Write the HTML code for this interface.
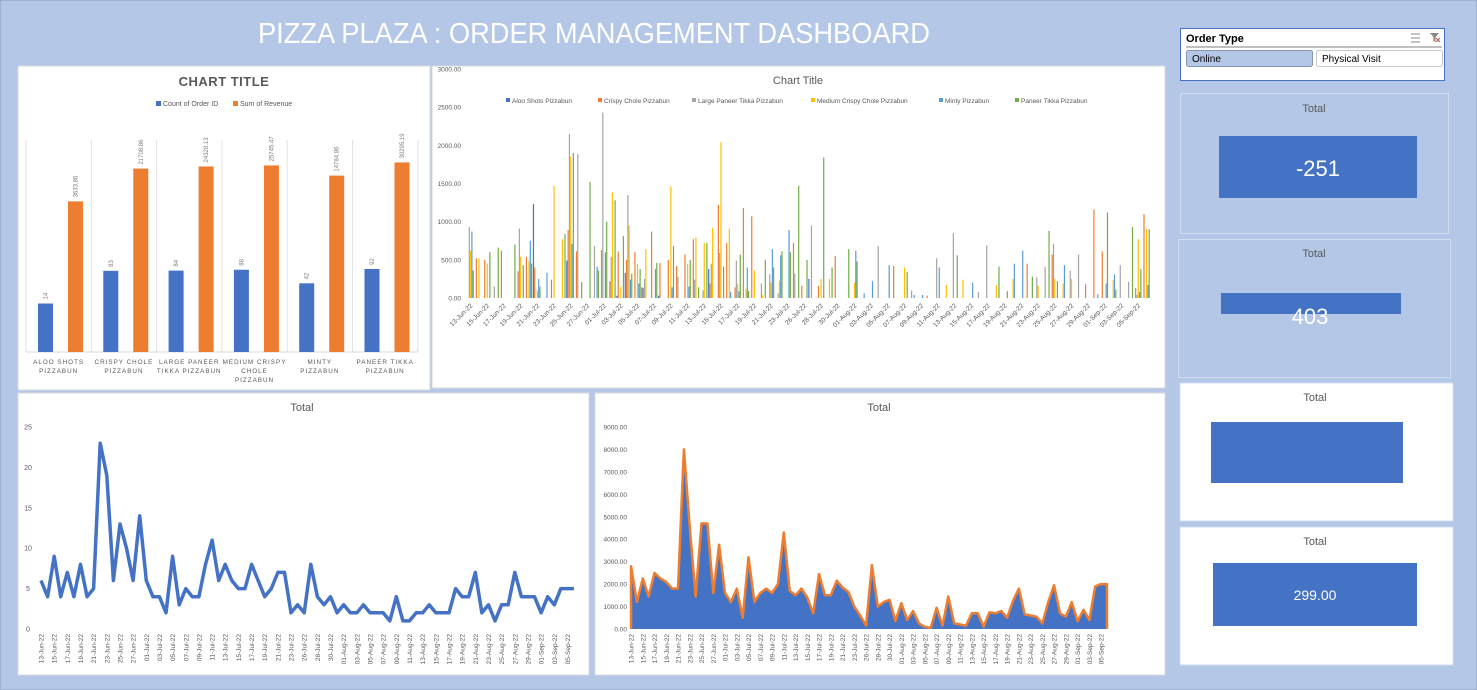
<!DOCTYPE html>
<html><head><meta charset="utf-8">
<style>
html,body{margin:0;padding:0;background:#b4c7e7;}
svg{display:block;font-family:"Liberation Sans",sans-serif;}
</style></head>
<body>
<svg id="dash" width="1477" height="690" viewBox="0 0 1477 690">
<rect x="0" y="0" width="1477" height="690" fill="#b4c7e7" stroke="#8a9bb8"/>
<text x="594" y="43" text-anchor="middle" fill="#ffffff" font-size="29" textLength="672" lengthAdjust="spacingAndGlyphs">PIZZA PLAZA : ORDER MANAGEMENT DASHBOARD</text>

<g>
<rect x="18" y="66" width="412" height="324" fill="#fff" stroke="#d9d9d9"/>
<text x="224" y="86" text-anchor="middle" font-size="13" font-weight="bold" fill="#595959" letter-spacing="0.5">CHART TITLE</text>
<rect x="156" y="101" width="5" height="5" fill="#4472c4"/>
<text x="163" y="106" font-size="7" fill="#595959">Count of Order ID</text>
<rect x="233" y="101" width="5" height="5" fill="#ed7d31"/>
<text x="240" y="106" font-size="7" fill="#595959">Sum of Revenue</text>
<g id="barG"></g>
</g>

<g>
<rect x="432" y="66" width="733" height="322" fill="#fff" stroke="#d9d9d9"/>
<text x="798" y="84" text-anchor="middle" font-size="11" fill="#595959">Chart Title</text>
<g id="prodLegend"></g>
<g id="prodG"></g>
</g>

<g>
<rect x="18" y="393" width="571" height="282" fill="#fff" stroke="#d9d9d9"/>
<text x="302" y="411" text-anchor="middle" font-size="11" fill="#595959">Total</text>
<g id="lineG"></g>
</g>

<g>
<rect x="595" y="393" width="570" height="282" fill="#fff" stroke="#d9d9d9"/>
<text x="879" y="411" text-anchor="middle" font-size="11" fill="#595959">Total</text>
<g id="areaG"></g>
</g>

<g>
<rect x="1180.5" y="28.5" width="264" height="52" fill="#fff" stroke="#4472c4"/>
<text x="1186" y="42" font-size="11" font-weight="bold" fill="#000">Order Type</text>
<line x1="1186" y1="47" x2="1442" y2="47" stroke="#7f7f7f"/>
<g><line x1="1411" y1="34" x2="1420" y2="34" stroke="#888"/><line x1="1411" y1="38" x2="1420" y2="38" stroke="#888"/><line x1="1411" y1="42" x2="1420" y2="42" stroke="#888"/></g>
<g><path d="M1430 33 h9 l-3.5 4 v5 l-2 -1 v-4 z" fill="#888"/><path d="M1436 38 l4 4 M1440 38 l-4 4" stroke="#c0504d"/></g>
<rect x="1186.5" y="50.5" width="126" height="16" rx="2" fill="#b4c7e7" stroke="#8497b0"/>
<text x="1192" y="62" font-size="10" fill="#000">Online</text>
<rect x="1316.5" y="50.5" width="126" height="16" rx="2" fill="#fff" stroke="#c8c8c8"/>
<text x="1322" y="62" font-size="10" fill="#000">Physical Visit</text>
</g>

<g>
<rect x="1180.5" y="93.5" width="268" height="140" fill="#b4c7e7" stroke="#d0dcef"/>
<text x="1314" y="112" text-anchor="middle" font-size="11" fill="#595959">Total</text>
<rect x="1219" y="136" width="198" height="62" fill="#4472c4"/>
<text x="1318" y="176" text-anchor="middle" font-size="22" fill="#fff">-251</text>
</g>
<g>
<rect x="1178.5" y="239.5" width="272" height="138" fill="#b4c7e7" stroke="#d0dcef"/>
<text x="1314" y="257" text-anchor="middle" font-size="11" fill="#595959">Total</text>
<rect x="1221" y="293" width="180" height="21" fill="#4472c4"/>
<text x="1310" y="324" text-anchor="middle" font-size="22" fill="#fff">403</text>
</g>
<g>
<rect x="1180" y="383" width="273" height="138" fill="#fff" stroke="#d0dcef"/>
<text x="1315" y="401" text-anchor="middle" font-size="11" fill="#595959">Total</text>
<rect x="1211" y="422" width="192" height="61" fill="#4472c4"/>
</g>
<g>
<rect x="1180" y="527" width="273" height="138" fill="#fff" stroke="#d0dcef"/>
<text x="1315" y="545" text-anchor="middle" font-size="11" fill="#595959">Total</text>
<rect x="1213" y="563" width="204" height="63" fill="#4472c4"/>
<text x="1315" y="600" text-anchor="middle" font-size="14" fill="#fff">299.00</text>
</g>
</svg>

<script>
// ===== Product bar chart data =====
const products = [["ALOO SHOTS","PIZZABUN"],["CRISPY CHOLE","PIZZABUN"],["LARGE PANEER","TIKKA PIZZABUN"],["MEDIUM CRISPY","CHOLE","PIZZABUN"],["MINTY","PIZZABUN"],["PANEER TIKKA","PIZZABUN"]];
const orderCounts = [14, 83, 84, 88, 42, 92];
const revenueSums = [3633.86, 21708.86, 24328.13, 25745.47, 14784.86, 30295.19];
const revenueLabels = ["3633.86","21708.86","24328.13","25745.47","14784.86","30295.19"];

// ===== Daily line / area data =====
const dateLabels = ["13-Jun-22","15-Jun-22","17-Jun-22","19-Jun-22","21-Jun-22","23-Jun-22","25-Jun-22","27-Jun-22","01-Jul-22","03-Jul-22","05-Jul-22","07-Jul-22","09-Jul-22","11-Jul-22","13-Jul-22","15-Jul-22","17-Jul-22","19-Jul-22","21-Jul-22","23-Jul-22","26-Jul-22","28-Jul-22","30-Jul-22","01-Aug-22","03-Aug-22","05-Aug-22","07-Aug-22","09-Aug-22","11-Aug-22","13-Aug-22","15-Aug-22","17-Aug-22","19-Aug-22","21-Aug-22","23-Aug-22","25-Aug-22","27-Aug-22","29-Aug-22","01-Sep-22","03-Sep-22","05-Sep-22"];
const dailyCounts = [6,4,9,4,7,4,8,4,5,23,19,6,13,10,6,14,6,4,4,2,9,3,5,4,4,8,11,6,8,6,5,5,8,6,4,5,7,7,2,3,2,8,4,3,4,2,3,2,2,3,2,2,2,1,4,1,1,2,2,3,2,2,2,5,4,4,7,2,3,1,3,3,7,4,4,4,2,4,3,5,5,5];
const dailyRevenue = [2800,1200,2250,1450,2500,2250,2100,1800,1800,8000,4500,1450,4700,4700,1600,3750,1600,1200,1800,500,3200,1200,1600,1800,1600,2000,4300,1700,1500,1800,1400,700,2450,1500,1500,2150,1850,1650,1000,600,150,2850,1000,1200,1300,350,1150,400,800,250,100,50,950,150,1450,250,200,150,700,700,100,750,700,800,500,1250,1800,650,600,550,250,1200,1950,700,550,1200,350,850,400,1900,2000,2000];
const countTicks = [0,5,10,15,20,25];
const revenueTicks = [0,1000,2000,3000,4000,5000,6000,7000,8000,9000];

// ===== Per-product daily revenue (sparse estimates) =====
const seriesNames = ["Aloo Shots Pizzabun","Crispy Chole Pizzabun","Large Paneer Tikka Pizzabun","Medium Crispy Chole Pizzabun","Minty Pizzabun","Paneer Tikka Pizzabun"];
const prodTicks = [0,500,1000,1500,2000,2500,3000];
const alooRev   = [0,0,0,0,0,0,0,0,1230,0,0,0,490,0,0,0,0,0,30,330,0,140,0,30,0,0,0,0,0,380,0,0,0,0,0,0,0,0,0,0,0,250,0,0,0,0,0,0,0,0,0,0,0,0,0,0,0,0,0,0,0,0,0,0,0,0,0,0,0,0,0,0,0,0,0,0,0,0,0,0,0,0];
const crispyRev = [0,520,500,0,620,0,350,540,400,0,240,0,890,610,0,0,630,220,610,500,600,130,870,460,500,420,570,770,0,190,1220,720,140,1180,1070,0,0,0,0,720,160,0,160,0,550,0,0,0,0,0,0,420,0,0,0,30,0,0,0,0,0,0,0,0,0,0,0,450,0,0,570,0,0,0,180,1160,610,0,0,0,130,1100];
const largeRev  = [930,0,0,150,0,0,910,0,0,0,0,0,2150,1890,0,680,2430,540,0,1350,0,250,0,0,0,280,0,240,100,450,590,0,490,0,0,190,310,60,0,320,0,950,0,0,0,0,0,0,0,680,0,0,0,100,0,0,520,0,850,0,0,80,690,0,0,0,0,0,270,410,710,0,360,570,0,0,0,0,430,210,40,0];
const mediumRev = [620,520,450,0,0,0,540,480,100,0,1470,770,1850,0,0,0,0,1380,150,950,450,640,0,0,1460,0,450,790,720,920,2040,910,180,120,360,40,200,230,0,0,0,0,250,250,0,0,200,0,0,0,0,0,400,0,0,0,0,170,0,240,0,0,0,170,0,250,0,0,160,0,250,190,250,0,0,0,0,240,0,0,770,900];
const mintyRev  = [870,0,0,0,0,0,0,750,250,330,0,0,710,0,0,410,600,0,0,240,190,0,380,0,140,0,150,0,0,0,0,80,90,400,0,0,640,560,890,0,0,0,0,0,0,0,620,60,220,0,430,0,0,40,40,0,400,0,0,0,200,0,0,0,0,450,620,0,0,0,0,430,0,0,0,50,190,310,0,0,80,170];
const paneerRev = [360,0,600,660,0,700,430,450,150,0,0,840,1900,210,1520,360,1000,1280,810,320,380,0,460,0,680,0,500,140,720,0,410,0,570,90,0,500,400,610,600,1470,500,0,1840,400,0,640,480,0,0,0,0,0,340,0,0,0,0,0,560,0,0,0,0,410,90,0,0,280,0,880,220,0,0,0,0,0,1120,110,0,930,380,900];
const seriesValues = [alooRev, crispyRev, largeRev, mediumRev, mintyRev, paneerRev];
const seriesColors = ["#4472c4","#ed7d31","#a5a5a5","#ffc000","#5b9bd5","#70ad47"];

const NS = "http://www.w3.org/2000/svg";
function mk(tag, attrs, parent, text){
  const e = document.createElementNS(NS, tag);
  for (const k in attrs) e.setAttribute(k, attrs[k]);
  if (text !== undefined) e.textContent = text;
  parent.appendChild(e);
  return e;
}

// ---------- Bar chart (log scale) ----------
(function(){
  const g = document.getElementById('barG');
  const base = 352, perDecade = 42.3, x0 = 26, catW = 65.3;
  const yLog = v => base - Math.log10(v) * perDecade;
  for (let i = 0; i <= products.length; i++) {
    const gl = mk('line', {x1: x0 + i*catW, x2: x0 + i*catW, y1: 140, y2: base, stroke: '#e3e3e3'}, g);
    
    
  }
  const ax = mk('line', {x1: x0, x2: x0 + 6*catW, y1: base, y2: base, stroke: '#d9d9d9'}, g);
  
  
  products.forEach((p, i) => {
    const cx = x0 + i*catW;
    const yb = yLog(orderCounts[i]);
    const b1 = mk('rect', {x: cx + 12, y: yb, width: 15, height: base - yb, fill: '#4472c4'}, g);
    
    
    const yo = yLog(revenueSums[i]);
    const b2 = mk('rect', {x: cx + 42, y: yo, width: 15, height: base - yo, fill: '#ed7d31'}, g);
    
    
    const l1 = mk('text', {x: 0, y: 0, 'font-size': 6, fill: '#7f7f7f', transform: `translate(${cx+21.5},${yb-4}) rotate(-90)`}, g, String(orderCounts[i]));
    
    
    const l2 = mk('text', {x: 0, y: 0, 'font-size': 6, fill: '#7f7f7f', transform: `translate(${cx+51.5},${yo-4}) rotate(-90)`}, g, revenueLabels[i]);
    
    
    p.forEach((line, j) => {
      const t = mk('text', {x: cx + catW/2, y: 364 + j*9, 'text-anchor': 'middle', 'font-size': 6.3, 'letter-spacing': 1, fill: '#595959'}, g, line);
      
      
    });
  });
})();

// ---------- Product daily revenue clustered bars ----------
(function(){
  const g = document.getElementById('prodG');
  const lg = document.getElementById('prodLegend');
  const legX = [506, 598, 692, 811, 939, 1015];
  seriesNames.forEach((n, k) => {
    const s = mk('rect', {x: legX[k], y: 98, width: 4, height: 4, fill: seriesColors[k]}, lg);
    
    
    const t = mk('text', {x: legX[k] + 6, y: 103, 'font-size': 6.5, fill: '#595959'}, lg, n);
    
    
  });
  const y0 = 298, y1 = 69, vmax = 3000;
  const y = v => y0 - v / vmax * (y0 - y1);
  const n = alooRev.length;
  const xs = 470, xe = 1146, step = (xe - xs) / (n - 1);
  const x = i => xs + i * step;
  prodTicks.forEach(t => {
    const tl = mk('text', {x: 461, y: y(t) + 2.5, 'text-anchor': 'end', 'font-size': 6.5, fill: '#595959'}, g, t.toFixed(2));
    
    
  });
  seriesValues.forEach((arr, k) => {
    arr.forEach((v, i) => {
      if (!v) return;
      const r = mk('rect', {x: x(i) + (k - 3) * 1.3, y: y(v), width: 1.2, height: y0 - y(v), fill: seriesColors[k]}, g);
      
      
    });
  });
  dateLabels.forEach((d, j) => {
    const t = mk('text', {x: 0, y: 0, 'text-anchor': 'end', 'font-size': 6.5, fill: '#595959', transform: `translate(${x(j*2)+3},${306}) rotate(-45)`}, g, d);
    
    
  });
})();

// ---------- Line chart ----------
(function(){
  const g = document.getElementById('lineG');
  const y0 = 629, y1 = 427, vmax = 25;
  const y = v => y0 - v / vmax * (y0 - y1);
  const n = dailyCounts.length;
  const xs = 41, xe = 574, step = (xe - xs) / (n - 1);
  const x = i => xs + i * step;
  countTicks.forEach(t => {
    const tl = mk('text', {x: 28, y: y(t) + 2.5, 'text-anchor': 'middle', 'font-size': 7, fill: '#595959'}, g, String(t));
    
    
  });
  const pts = dailyCounts.map((v, i) => x(i).toFixed(1) + ',' + y(v).toFixed(1)).join(' ');
  const pl = mk('polyline', {points: pts, fill: 'none', stroke: '#4472c4', 'stroke-width': 3.5, 'stroke-linejoin': 'round'}, g);
  
  
  dateLabels.forEach((d, j) => {
    const t = mk('text', {x: 0, y: 0, 'text-anchor': 'end', 'font-size': 6.5, fill: '#595959', transform: `translate(${x(j*2)+2.5},${634}) rotate(-90)`}, g, d);
    
    
  });
})();

// ---------- Area chart ----------
(function(){
  const g = document.getElementById('areaG');
  const y0 = 629, y1 = 427, vmax = 9000;
  const y = v => y0 - v / vmax * (y0 - y1);
  const n = dailyRevenue.length;
  const xs = 631, xe = 1107, step = (xe - xs) / (n - 1);
  const x = i => xs + i * step;
  revenueTicks.forEach(t => {
    const tl = mk('text', {x: 627, y: y(t) + 2.5, 'text-anchor': 'end', 'font-size': 6.5, fill: '#595959'}, g, t.toFixed(2));
    
    
  });
  const pts = dailyRevenue.map((v, i) => x(i).toFixed(1) + ',' + y(v).toFixed(1));
  const area = mk('polygon', {points: `${x(0)},${y0} ` + pts.join(' ') + ` ${x(n-1)},${y0}`, fill: '#4472c4'}, g);
  
  
  const pl = mk('polyline', {points: `${x(0)},${y0} ` + pts.join(' ') + ` ${x(n-1)},${y0}`, fill: 'none', stroke: '#ed7d31', 'stroke-width': 2.5, 'stroke-linejoin': 'round'}, g);
  
  
  dateLabels.forEach((d, j) => {
    const t = mk('text', {x: 0, y: 0, 'text-anchor': 'end', 'font-size': 6.5, fill: '#595959', transform: `translate(${x(j*2)+2.5},${634}) rotate(-90)`}, g, d);
    
    
  });
})();
</script>
</body></html>
